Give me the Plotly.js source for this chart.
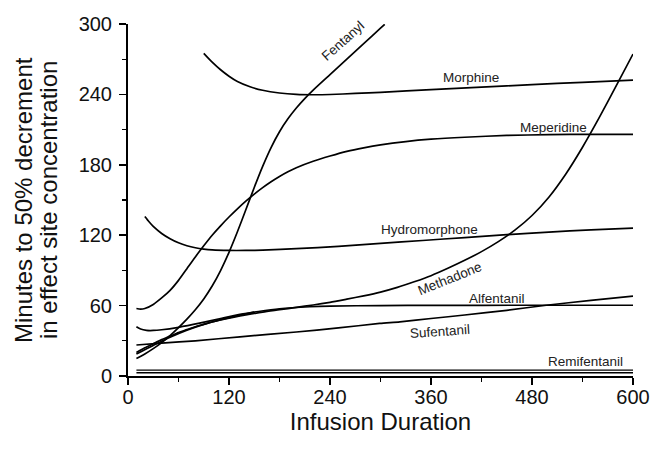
<!DOCTYPE html>
<html>
<head>
<meta charset="utf-8">
<script src="https://cdn.plot.ly/plotly-3.0.1.min.js"></script>
<style>
  html, body { margin: 0; padding: 0; background: #ffffff; }
  #chart { width: 651px; height: 454px; }
</style>
</head>
<body>
<div id="chart"></div>
<script>
// Minutes to 50% decrement in effect-site concentration vs. infusion duration (min)
const fentanylX = [10, 20, 30, 40, 50, 60, 70, 80, 90, 100, 110, 120, 130, 140, 150, 160, 170, 180, 190, 200, 210, 220, 240, 260, 280, 300, 305];
const fentanylY = [15, 18.8, 23.3, 28.5, 34.5, 41.3, 48.5, 56.5, 65.7, 76.7, 89.9, 105.4, 122.9, 141.7, 160.7, 178.7, 194.7, 208.2, 219.2, 228.4, 236.4, 243.6, 256.8, 270, 283.2, 296.4, 299.7];

const morphineX = [90, 100, 110, 120, 130, 145, 160, 180, 200, 220, 240, 270, 300, 360, 420, 480, 540, 600];
const morphineY = [275, 267.5, 261, 255.5, 251, 246.5, 243.5, 241.2, 240, 239.7, 239.9, 240.8, 241.8, 244, 246.2, 248.3, 250.3, 252.2];

const meperidineX = [10, 15, 20, 30, 40, 50, 60, 70, 80, 90, 100, 110, 120, 130, 140, 150, 160, 170, 180, 190, 200, 220, 240, 260, 280, 300, 330, 360, 400, 450, 500, 550, 600];
const meperidineY = [57.5, 57, 57.5, 61, 66.5, 73, 81.5, 91.5, 101.5, 111, 120, 128, 135.5, 142.5, 149, 155, 160.5, 165.5, 170, 174, 177.5, 183, 187.5, 191.5, 194.5, 197, 199.8, 201.8, 203.5, 205, 205.7, 206, 206];

const hydromorphoneX = [20, 25, 30, 40, 50, 60, 70, 80, 90, 100, 120, 140, 160, 200, 250, 300, 350, 400, 450, 500, 550, 600];
const hydromorphoneY = [136, 131.5, 127.5, 121.5, 117, 113.5, 111, 109.3, 108.2, 107.5, 107, 107, 107.3, 108.5, 110.5, 113, 115.5, 118, 120.5, 122.7, 124.5, 126];

const methadoneX = [10, 20, 30, 40, 50, 60, 70, 80, 90, 100, 120, 140, 160, 180, 200, 220, 240, 260, 280, 300, 320, 340, 360, 380, 400, 420, 440, 460, 480, 500, 520, 540, 560, 580, 600];
const methadoneY = [20, 24, 27.5, 31, 34, 37, 39.5, 42, 44, 46, 49.3, 52, 54.5, 56.5, 58.5, 60.5, 62.8, 65.5, 68.3, 71.5, 75.5, 80.3, 85.5, 91.8, 98.6, 106, 114.5, 124.5, 136.8, 152.4, 172, 195, 220.4, 247.2, 274.4];

const alfentanilX = [10, 15, 22, 30, 40, 60, 85, 110, 133, 155, 180, 216, 240, 300, 360, 480, 600];
const alfentanilY = [42, 40, 38.9, 38.8, 39.4, 41.5, 45, 49, 52.5, 55, 57.3, 59, 59.6, 60, 60.2, 60.3, 60.3];

// early rising branch that joins the alfentanil curve
const alfentanilRiseX = [10, 30, 50, 70, 90, 110, 130, 150];
const alfentanilRiseY = [18.7, 26, 33, 39, 44, 48, 51.5, 54.5];

const sufentanilX = [10, 40, 80, 133, 200, 250, 299, 323, 360, 400, 450, 497, 550, 600];
const sufentanilY = [26.4, 28, 30, 33.4, 37.5, 41, 44.8, 46.2, 49, 52, 56, 60.3, 64.5, 68];

const remifentanilX = [10, 600];
const remifentanilUpperY = [5.0, 5.0];
const remifentanilLowerY = [2.8, 2.8];

const xTicks = [0, 120, 240, 360, 480, 600];
const yTicks = [0, 60, 120, 180, 240, 300];

// Curve labels
const labelText = ['Fentanyl', 'Morphine', 'Meperidine', 'Hydromorphone', 'Methadone', 'Alfentanil', 'Sufentanil', 'Remifentanil'];
const labelX = [256, 407, 506, 358, 383, 438, 371, 543];
const labelY = [286, 254.5, 212, 125, 83, 66, 37.7, 12.2];
const labelAngle = [-42, 0, 0, 0, -22, 0, -4, 0];

const FONT = '"Liberation Sans", Arial, Helvetica, sans-serif';

function curve(x, y, name, width) {
  return {
    type: 'scatter', mode: 'lines', x: x, y: y, name: name,
    line: { color: '#000000', width: width || 1.7, shape: 'spline', smoothing: 0.7 },
    hoverinfo: 'skip', showlegend: false
  };
}

const traces = [
  curve(fentanylX, fentanylY, 'Fentanyl'),
  curve(morphineX, morphineY, 'Morphine'),
  curve(meperidineX, meperidineY, 'Meperidine'),
  curve(hydromorphoneX, hydromorphoneY, 'Hydromorphone'),
  curve(methadoneX, methadoneY, 'Methadone'),
  curve(alfentanilX, alfentanilY, 'Alfentanil'),
  curve(alfentanilRiseX, alfentanilRiseY, 'Alfentanil'),
  curve(sufentanilX, sufentanilY, 'Sufentanil'),
  curve(remifentanilX, remifentanilUpperY, 'Remifentanil', 1.4),
  curve(remifentanilX, remifentanilLowerY, 'Remifentanil', 1.4)
];

const annotations = labelText.map((t, i) => ({
  text: t, x: labelX[i], y: labelY[i], xref: 'x', yref: 'y',
  showarrow: false, textangle: labelAngle[i],
  font: { family: FONT, size: 13.5, color: '#222222' }
}));

// two-line y-axis title
annotations.push({
  text: 'Minutes to 50% decrement', xref: 'paper', yref: 'paper', x: 0, y: 0.5,
  xshift: -105, textangle: -90, showarrow: false, xanchor: 'center', yanchor: 'middle',
  font: { family: FONT, size: 24, color: '#111111' }
});
annotations.push({
  text: 'in effect site concentration', xref: 'paper', yref: 'paper', x: 0, y: 0.5,
  xshift: -80, textangle: -90, showarrow: false, xanchor: 'center', yanchor: 'middle',
  font: { family: FONT, size: 24, color: '#111111' }
});

const axisCommon = {
  showline: true, linecolor: '#000000', linewidth: 2,
  ticks: 'outside', ticklen: 7, tickwidth: 1.6, tickcolor: '#000000',
  showgrid: false, zeroline: false, fixedrange: true,
  tickfont: { family: FONT, size: 20, color: '#111111' }
};

const layout = {
  width: 651, height: 454,
  margin: { l: 128, r: 18, t: 24, b: 78 },
  paper_bgcolor: '#ffffff', plot_bgcolor: '#ffffff',
  font: { family: FONT, color: '#111111' },
  showlegend: false,
  xaxis: Object.assign({}, axisCommon, {
    range: [0, 600], tickvals: xTicks, ticktext: xTicks.map(String),
    minor: { tickvals: [60, 180, 300, 420, 540], ticks: 'outside', ticklen: 4, tickwidth: 1.4, tickcolor: '#000000', showgrid: false },
    ticklabelstandoff: -5,
    title: { text: 'Infusion Duration', font: { family: FONT, size: 24, color: '#111111' }, standoff: 3 }
  }),
  yaxis: Object.assign({}, axisCommon, {
    range: [0, 300], tickvals: yTicks, ticktext: yTicks.map(String),
    minor: { tickvals: [30, 90, 150, 210, 270], ticks: 'outside', ticklen: 4, tickwidth: 1.4, tickcolor: '#000000', showgrid: false },
    ticklabelstandoff: 3
  }),
  annotations: annotations
};

Plotly.newPlot('chart', traces, layout, { staticPlot: true, displayModeBar: false });
</script>
</body>
</html>
